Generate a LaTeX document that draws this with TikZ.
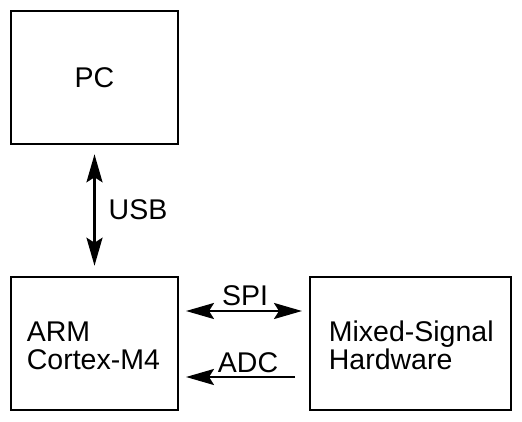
\documentclass[tikz,border=0pt]{standalone}
\usepackage{fontspec}
\setmainfont{Liberation Sans}
\usetikzlibrary{arrows.meta,calc}
\begin{document}
\begin{tikzpicture}[x=1pt,y=-1pt,
  blk/.style={draw,line width=2.6pt,minimum width=167pt,minimum height=133pt,inner sep=0pt},
  txt/.style={font=\fontsize{28.5}{28}\selectfont,inner sep=0pt},
  arr/.style={line width=2.4pt,-{Stealth[length=28pt,width=16pt,inset=5pt]}},
  darr/.style={line width=2.4pt,{Stealth[length=28pt,width=16pt,inset=5pt]}-{Stealth[length=28pt,width=16pt,inset=5pt]}}]
\useasboundingbox (0,0) rectangle (522,422);
\node[blk] (pc) at (94.5,77.5) {};
\node[txt] (pclbl) at (pc.center) {PC};
\node[blk] (arm) at (94.5,343.5) {};
\node[blk,minimum width=201pt] (mix) at (410.5,343.5) {};
\node[txt,anchor=west,align=left] (armlbl) at ($(arm.west)+(17,2)$) {ARM\\Cortex-M4};
\node[txt,anchor=west,align=left] (mixlbl) at ($(mix.west)+(20,2)$) {Mixed-Signal\\Hardware};
\coordinate (spiL) at (186,311);
\coordinate (spiR) at (302,311);
\coordinate (adcR) at (295,377);
\coordinate (adcL) at (186,377);
\draw[darr] ($(pc.south)+(0,9)$) -- node[txt,right=13pt] (usb) {USB} ($(arm.north)+(0,-10)$);
\draw[darr] (spiL) -- (spiR);
\node[txt,anchor=base] (spi) at (245,305) {SPI};
\draw[arr] (adcR) -- (adcL);
\node[txt,anchor=base] (adc) at (248,372) {ADC};
\end{tikzpicture}
\end{document}
